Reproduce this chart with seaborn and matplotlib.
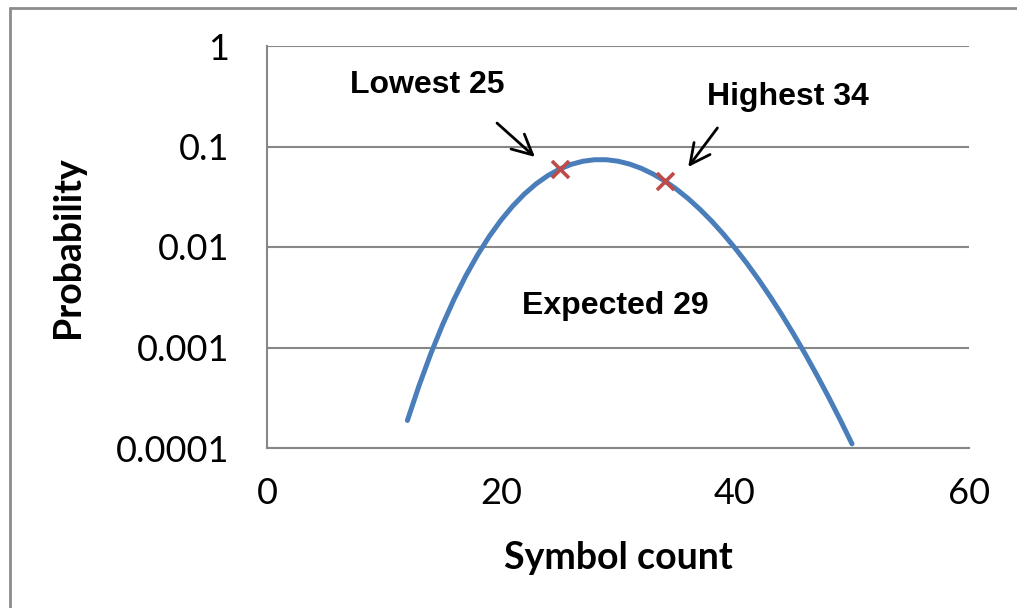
import pandas as pd
import matplotlib.pyplot as plt
import seaborn as sns

# Probability of each symbol count
counts = list(range(12, 51))
probs = [0.000188, 0.000419, 0.000868, 0.001678, 0.003042, 0.005189, 0.008360,
         0.01276, 0.01850, 0.02555, 0.03368, 0.04247, 0.05132, 0.05953, 0.06640,
         0.07132, 0.07387, 0.07387, 0.07141, 0.06680, 0.06054, 0.05320, 0.04538,
         0.03760, 0.03029, 0.02374, 0.01812, 0.01347, 0.009766, 0.006908, 0.004770,
         0.003217, 0.002120, 0.001366, 0.000861, 0.000531, 0.000321, 0.000190,
         0.000110]

# Highlighted points
mark_x = [25, 34]
mark_y = [0.0595, 0.0454]

x_ticks = [0, 20, 40, 60]
y_ticks = [0.0001, 0.001, 0.01, 0.1, 1]
y_tick_labels = ["0.0001", "0.001", "0.01", "0.1", "1"]

df = pd.DataFrame({"count": counts, "prob": probs})
marks = pd.DataFrame({"count": mark_x, "prob": mark_y})

sns.set_style("white")
plt.rcParams['font.family'] = ['Lato', 'DejaVu Sans']

grey = "#878787"

fig = plt.figure(figsize=(10.17, 6.08), dpi=100)
ax = fig.add_axes([267 / 1017, 1 - 448 / 608, (969 - 267) / 1017, (448 - 46) / 608])

# -------------------------------
# Curve and markers
# -------------------------------
sns.lineplot(data=df, x="count", y="prob", ax=ax, color="#4A7EBB",
             linewidth=3.6, solid_capstyle="round", zorder=3)
sns.scatterplot(data=marks, x="count", y="prob", ax=ax, marker="x",
                color="#BE4B48", s=150, linewidth=2.6, zorder=4)

ax.set_yscale("log")
ax.set_xlim(0, 60)
ax.set_ylim(0.0001, 1)
ax.set_xticks(x_ticks)
ax.set_yticks(y_ticks)
ax.set_yticklabels(y_tick_labels)
ax.minorticks_off()

ax.yaxis.grid(True, color=grey, linewidth=1.5)
ax.set_axisbelow(True)
for side in ["top", "right"]:
    ax.spines[side].set_visible(False)
for side in ["left", "bottom"]:
    ax.spines[side].set_color(grey)
    ax.spines[side].set_linewidth(1.5)

ax.tick_params(axis="both", direction="out", length=9, width=1.5, color=grey,
               labelsize=26, labelcolor="black")
ax.tick_params(axis="y", pad=18)
ax.tick_params(axis="x", pad=12)

ax.set_xlabel("Symbol count", fontsize=27, fontweight="bold", labelpad=22,
              color="black")
ax.set_ylabel("Probability", fontsize=27, fontweight="bold", labelpad=22,
              color="black")

# -------------------------------
# Annotations
# -------------------------------
ann_font = dict(family=["Liberation Sans", "DejaVu Sans"], fontsize=23,
                fontweight="bold", ha="center", va="center", color="black")
ax.text(13.7, 0.405, "Lowest 25", **ann_font)
ax.text(44.5, 0.311, "Highest 34", **ann_font)
ax.text(29.8, 0.00259, "Expected 29", **ann_font)

arrow = dict(arrowstyle="->", color="black", lw=2.0, mutation_scale=36,
             shrinkA=0, shrinkB=0)
ax.annotate("", xy=(22.9, 0.0787), xytext=(19.66, 0.171), arrowprops=arrow)
ax.annotate("", xy=(36.0, 0.0625), xytext=(38.5, 0.153), arrowprops=arrow)

# chart frame (only top and left edges visible)
fig.add_artist(plt.Line2D([10 / 1017, 1], [1 - 8 / 608, 1 - 8 / 608],
                          color="#8c8c8c", linewidth=2))
fig.add_artist(plt.Line2D([10 / 1017, 10 / 1017], [0, 1 - 8 / 608],
                          color="#8c8c8c", linewidth=2))

fig.savefig("out.png", dpi=100)
